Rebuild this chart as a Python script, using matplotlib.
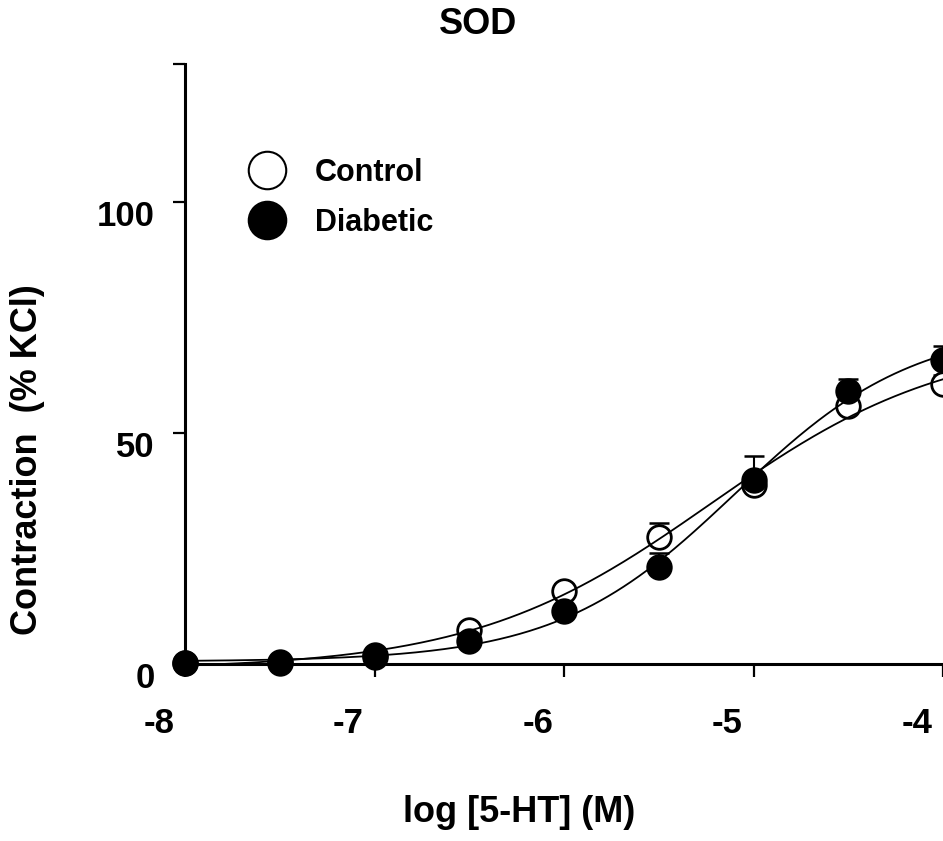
import numpy as np
import matplotlib
matplotlib.use('Agg')
import matplotlib.pyplot as plt
from matplotlib.lines import Line2D
from matplotlib.transforms import ScaledTranslation

plt.rcParams['font.family'] = ['Liberation Sans', 'DejaVu Sans']
plt.rcParams['font.weight'] = 'bold'

# log [5-HT] (M)
log_conc = [-8, -7.5, -7, -6.5, -6, -5.5, -5, -4.5, -4]
# contraction (% KCl), mean and SEM
control = [0.2, 0.4, 2.0, 7.4, 15.8, 27.5, 38.8, 55.9, 60.7]
control_sem = [0.3, 0.3, 0.5, 1.5, 1.5, 3.0, 2.0, 2.0, 2.0]
diabetic = [0.2, 0.3, 1.6, 5.0, 11.4, 21.0, 39.9, 59.2, 65.9]
diabetic_sem = [0.3, 0.3, 0.6, 0.8, 1.0, 3.0, 5.2, 2.6, 3.0]

x_ticks = [-8, -7, -6, -5, -4]
y_ticks = [0, 50, 100, 130]
y_tick_labels = ['0', '50', '100', '']


def fit_hill(x, y):
    # sigmoidal dose-response fit, grid over logEC50 and slope, bottom/top by least squares
    x = np.asarray(x, float)
    y = np.asarray(y, float)
    ec = np.arange(-6.5, -3.0, 0.005)
    h = np.arange(0.3, 2.0, 0.01)
    E, H = np.meshgrid(ec, h, indexing='ij')
    f = 1.0 / (1.0 + 10 ** ((E[..., None] - x) * H[..., None]))
    g = 1.0 - f
    # y = bottom*g + top*f
    a11 = (g * g).sum(-1); a12 = (g * f).sum(-1); a22 = (f * f).sum(-1)
    b1 = (g * y).sum(-1); b2 = (f * y).sum(-1)
    det = a11 * a22 - a12 ** 2
    bottom = (b1 * a22 - b2 * a12) / det
    top = (a11 * b2 - a12 * b1) / det
    res = ((bottom[..., None] * g + top[..., None] * f - y) ** 2).sum(-1)
    i, j = np.unravel_index(np.argmin(res), res.shape)
    return bottom[i, j], top[i, j], ec[i], h[j]


def hill(x, p):
    bottom, top, ec, h = p
    return bottom + (top - bottom) / (1.0 + 10 ** ((ec - x) * h))


fig = plt.figure(figsize=(9.43, 8.41), dpi=100)
ax = fig.add_axes([185 / 943, 1 - 664 / 841, (943 - 185) / 943, (664 - 64) / 841])

xs = np.linspace(-8, -4, 300)
series = [
    (control, control_sem, 'none', 'Control'),
    (diabetic, diabetic_sem, 'black', 'Diabetic'),
]
handles = []
for k, (y, err, face, label) in enumerate(series):
    ax.errorbar(log_conc, y, yerr=[np.zeros(len(err)), err], fmt='none',
                ecolor='black', elinewidth=1.5, capsize=7, capthick=1.8,
                zorder=2 + 2 * k, clip_on=False)
    ax.plot(log_conc, y, 'o', ms=17, mfc='white' if face == 'none' else 'black',
            mec='black', mew=2, zorder=3 + 2 * k, clip_on=False)
    p = fit_hill(log_conc, y)
    ax.plot(xs, hill(xs, p), color='black', lw=1.3, zorder=6, clip_on=False)
    handles.append(Line2D([], [], marker='o', ls='none', ms=27, mew=1.5,
                          mfc='white' if face == 'none' else 'black', mec='black',
                          label=label))

ax.set_xlim(-8, -4)
ax.set_ylim(0, 130)
ax.spines['top'].set_visible(False)
ax.spines['right'].set_visible(False)
for s in ['left', 'bottom']:
    ax.spines[s].set_linewidth(2.2)
ax.set_xticks(x_ticks)
ax.set_xticklabels([str(t) for t in x_ticks])
ax.set_yticks(y_ticks)
ax.set_yticklabels(y_tick_labels)
ax.tick_params(axis='both', direction='out', length=9, width=1.6, labelsize=25)
ax.tick_params(axis='x', pad=22)
ax.tick_params(axis='y', pad=13)

# labels sit a bit off their ticks, as in the original
for lab in ax.get_xticklabels():
    lab.set_transform(lab.get_transform() + ScaledTranslation(-0.26, 0, fig.dpi_scale_trans))
for lab in ax.get_yticklabels():
    lab.set_transform(lab.get_transform() + ScaledTranslation(0, -0.11, fig.dpi_scale_trans))

leg = ax.legend(handles=handles, loc='upper left', frameon=False, fontsize=22,
                bbox_to_anchor=(252 / 943, 1 - 158 / 841), bbox_transform=fig.transFigure,
                borderpad=0, borderaxespad=0, handlelength=1.0, handletextpad=1.05,
                labelspacing=0.65)

fig.text(478 / 943, 1 - 25 / 841, 'SOD', ha='center', va='center', fontsize=26, fontweight='bold')
fig.text(519 / 943, 1 - 813 / 841, 'log [5-HT] (M)', ha='center', va='center', fontsize=26, fontweight='bold')
fig.text(28 / 943, 1 - 460 / 841, 'Contraction  (% KCl)', ha='center', va='center',
         rotation=90, fontsize=26, fontweight='bold')

fig.savefig('out.png', dpi=100)
